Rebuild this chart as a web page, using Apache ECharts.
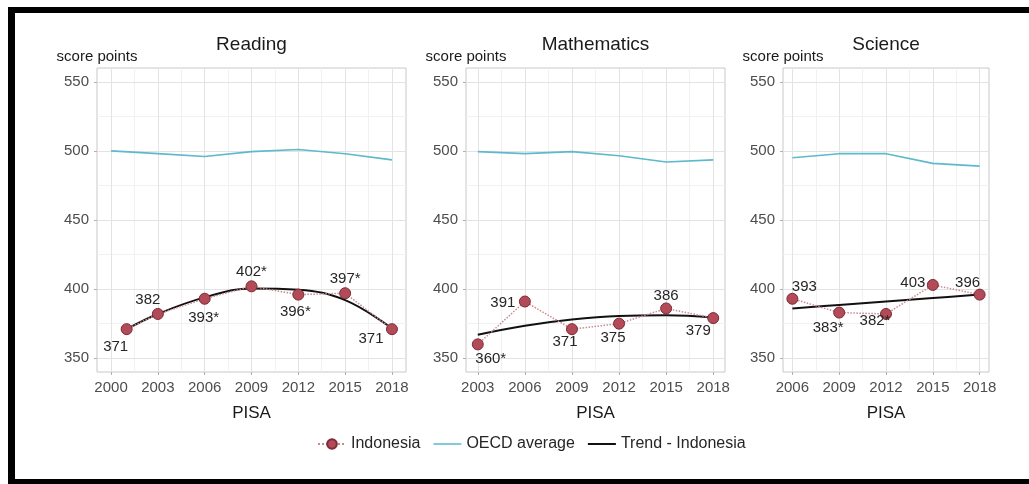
<!DOCTYPE html>
<html><head><meta charset="utf-8">
<script src="https://cdn.jsdelivr.net/npm/echarts@6/dist/echarts.min.js"></script>
<style>html,body{margin:0;padding:0;background:#fff}#c{width:1029px;height:484px}</style>
</head><body><div id="c"></div>
<script>
// ---- data ----
const yTicks = [350, 400, 450, 500, 550];
const yMinorTicks = [375, 425, 475, 525];

const readingTicks = [2000, 2003, 2006, 2009, 2012, 2015, 2018];
const readingYears = [2001, 2003, 2006, 2009, 2012, 2015, 2018];
const readingIndonesia = [371, 382, 393, 402, 396, 397, 371];
const readingLabels = ['371', '382', '393*', '402*', '396*', '397*', '371'];
const readingOecdYears = [2000, 2003, 2006, 2009, 2012, 2015, 2018];
const readingOecd = [500, 498, 496, 499.5, 501, 498, 493.5];
const readingTrend = [371, 382, 394, 400.5, 399.5, 392, 371.5];

const mathTicks = [2003, 2006, 2009, 2012, 2015, 2018];
const mathYears = [2003, 2006, 2009, 2012, 2015, 2018];
const mathIndonesia = [360, 391, 371, 375, 386, 379];
const mathLabels = ['360*', '391', '371', '375', '386', '379'];
const mathOecd = [499.5, 498, 499.5, 496.5, 492, 493.5];
const mathTrend = [367, 373.5, 378, 380.5, 381, 379.5];

const scienceTicks = [2006, 2009, 2012, 2015, 2018];
const scienceYears = [2006, 2009, 2012, 2015, 2018];
const scienceIndonesia = [393, 383, 382, 403, 396];
const scienceLabels = ['393', '383*', '382*', '403', '396'];
const scienceOecd = [495, 498, 498, 491, 489];
const scienceTrend = [386, 388.5, 391, 393.5, 396];

// ---- layout / style ----
const FONT = 'Liberation Sans, Arial, sans-serif';
const panels = [
  {title: 'Reading', ticks: readingTicks, years: readingYears, indo: readingIndonesia, labels: readingLabels,
   oecdYears: readingOecdYears, oecd: readingOecd, trend: readingTrend,
   xMin: 1999.1, xMax: 2018.9, left: 97, width: 309,
   offsets: [[-11, 18], [-10, -14], [-1, 19], [0, -14], [-3, 17], [0, -14], [-21, 10]]},
  {title: 'Mathematics', ticks: mathTicks, years: mathYears, indo: mathIndonesia, labels: mathLabels,
   oecdYears: mathYears, oecd: mathOecd, trend: mathTrend,
   xMin: 2002.25, xMax: 2018.75, left: 466, width: 259,
   offsets: [[13, 14], [-22, 1], [-7, 13], [-6, 14], [0, -13], [-15, 13]]},
  {title: 'Science', ticks: scienceTicks, years: scienceYears, indo: scienceIndonesia, labels: scienceLabels,
   oecdYears: scienceYears, oecd: scienceOecd, trend: scienceTrend,
   xMin: 2005.4, xMax: 2018.6, left: 783, width: 206,
   offsets: [[12, -12], [-11, 15], [-11, 7], [-20, -2], [-12, -12]]}
];
const TOP = 68, HEIGHT = 304;
const OECD_COLOR = '#5db9cc', TREND_COLOR = '#111111';

const grids = [], xAxes = [], yAxes = [], titles = [], series = [];
panels.forEach((p, i) => {
  grids.push({left: p.left, top: TOP, width: p.width, height: HEIGHT, show: true,
    borderColor: '#c8c8c8', borderWidth: 1, backgroundColor: 'transparent'});
  xAxes.push({type: 'value', gridIndex: i, min: p.xMin, max: p.xMax,
    axisLine: {show: false}, splitLine: {show: false},
    axisTick: {show: true, length: 3, lineStyle: {color: '#b0b0b0'}, customValues: p.ticks},
    axisLabel: {customValues: p.ticks, color: '#4d4d4d', fontSize: 15, fontFamily: FONT, margin: 8,
      formatter: v => String(v)},
    name: 'PISA', nameLocation: 'middle', nameGap: 33,
    nameTextStyle: {fontSize: 17, color: '#1a1a1a', fontFamily: FONT}});
  yAxes.push({type: 'value', gridIndex: i, min: 340, max: 560,
    axisLine: {show: false}, splitLine: {show: false},
    axisTick: {show: true, length: 3, lineStyle: {color: '#b0b0b0'}, customValues: yTicks},
    axisLabel: {customValues: yTicks, color: '#4d4d4d', fontSize: 15, fontFamily: FONT, margin: 8},
    name: 'score points', nameLocation: 'end', nameGap: 4,
    nameTextStyle: {fontSize: 15, color: '#1a1a1a', fontFamily: FONT, align: 'center'}});
  titles.push({text: p.title, left: (p.left + p.width / 2), top: 35, textAlign: 'center', padding: 0,
    textStyle: {fontSize: 19, fontWeight: 'normal', color: '#1a1a1a', fontFamily: FONT}});

  const xMinor = [];
  for (let k = 0; k < p.ticks.length - 1; k++) xMinor.push((p.ticks[k] + p.ticks[k + 1]) / 2);
  const minorStyle = {color: '#f1f1f1', width: 1, type: 'solid'};
  const majorStyle = {color: '#e3e3e3', width: 1, type: 'solid'};
  const gl = [];
  yMinorTicks.forEach(v => gl.push({yAxis: v, lineStyle: minorStyle}));
  xMinor.forEach(v => gl.push({xAxis: v, lineStyle: minorStyle}));
  yTicks.forEach(v => gl.push({yAxis: v, lineStyle: majorStyle}));
  p.ticks.forEach(v => gl.push({xAxis: v, lineStyle: majorStyle}));

  series.push({name: 'OECD average', type: 'line', xAxisIndex: i, yAxisIndex: i,
    data: p.oecdYears.map((y, k) => [y, p.oecd[k]]), symbol: 'none', z: 3,
    lineStyle: {color: OECD_COLOR, width: 1.6}, itemStyle: {color: OECD_COLOR},
    markLine: {silent: true, symbol: ['none', 'none'], z: 1, animation: false,
      lineStyle: {type: 'solid'},
      label: {show: false}, emphasis: {disabled: true}, data: gl}});
  series.push({name: 'Trend - Indonesia', type: 'line', xAxisIndex: i, yAxisIndex: i,
    data: p.years.map((y, k) => [y, p.trend[k]]), symbol: 'none', smooth: 0.4, z: 4,
    lineStyle: {color: TREND_COLOR, width: 2}, itemStyle: {color: TREND_COLOR}});
  series.push({name: 'Indonesia', type: 'line', xAxisIndex: i, yAxisIndex: i, z: 5,
    data: p.years.map((y, k) => ({value: [y, p.indo[k]],
      label: {position: 'inside', offset: p.offsets[k]}})),
    symbol: 'circle', symbolSize: 11,
    lineStyle: {color: '#c98a90', width: 1.5, type: 'dotted'},
    itemStyle: {color: '#b24a57', borderColor: '#7d2a35', borderWidth: 1},
    label: {show: true, formatter: (pp) => p.labels[pp.dataIndex], color: '#262626', fontSize: 15, fontFamily: FONT}});
});

// thin horizontal legend strokes (zero-area corner points keep the 28x12 box)
const lineIcon = (h) => 'path://M0,0L0.01,0L0,0.01Z' +
  'M0,' + (6 - h / 2) + 'L28,' + (6 - h / 2) + 'L28,' + (6 + h / 2) + 'L0,' + (6 + h / 2) + 'Z' +
  'M28,12L27.99,12L28,11.99Z';

const chart = echarts.init(document.getElementById('c'), null, {renderer: 'canvas'});
chart.setOption({
  animation: false,
  backgroundColor: '#ffffff',
  title: titles,
  grid: grids,
  xAxis: xAxes,
  yAxis: yAxes,
  legend: {data: [
      {name: 'Indonesia'},
      {name: 'OECD average', icon: lineIcon(1.6)},
      {name: 'Trend - Indonesia', icon: lineIcon(2)}
    ], left: 312, top: 431,
    itemWidth: 28, itemHeight: 12, itemGap: 13,
    textStyle: {fontSize: 16, color: '#262626', fontFamily: FONT}},
  graphic: [
    {type: 'rect', left: 8, top: 7, shape: {width: 1021, height: 6}, style: {fill: '#000'}, z: 100},
    {type: 'rect', left: 8, top: 7, shape: {width: 7, height: 477}, style: {fill: '#000'}, z: 100},
    {type: 'rect', left: 8, top: 479, shape: {width: 1021, height: 5}, style: {fill: '#000'}, z: 100}
  ],
  series: series
});
</script></body></html>
